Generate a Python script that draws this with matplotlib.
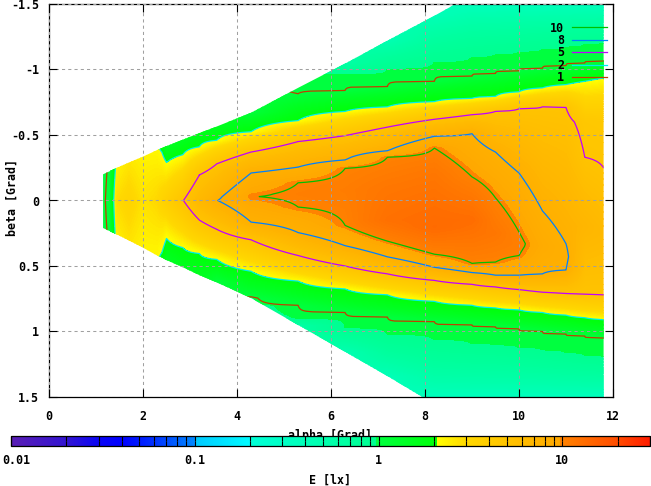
import numpy as np
import matplotlib
matplotlib.use("Agg")
import matplotlib.pyplot as plt
import matplotlib.ticker as mticker
import matplotlib.transforms as mtrans
from matplotlib.colors import LogNorm, ListedColormap, to_rgb
from matplotlib.patches import Polygon
from matplotlib.lines import Line2D

# ---------------- data ----------------
# alpha columns of the illuminance field; for every column the beta knots
# (first / last knot = edge of the measured wedge) and the value E [lx] there
alpha_cols = [1.15, 1.3, 1.45, 1.7, 2.0, 2.3, 2.4, 2.5, 2.85, 3.2, 3.57, 4.3,
              5.3, 6.3, 7.2, 8.2, 9.0, 9.5, 10.0, 10.5, 11.0, 11.4, 11.8]

beta_knots = [
    [-0.20, 0.0, 0.21],
    [-0.225, 0.0, 0.235],
    [-0.25, 0.0, 0.26],
    [-0.29, 0.0, 0.305],
    [-0.335, 0.0, 0.36],
    [-0.385, 0.0, 0.42],
    [-0.40, -0.37, 0.0, 0.40, 0.435],
    [-0.415, -0.29, 0.0, 0.29, 0.455],
    [-0.465, -0.35, 0.0, 0.36, 0.51],
    [-0.515, -0.41, -0.195, 0.0, 0.15, 0.405, 0.57],
    [-0.565, -0.46, -0.28, 0.0, 0.22, 0.45, 0.625],
    [-0.67, -0.525, -0.37, -0.21, -0.03, 0.165, 0.30, 0.54, 0.735, 0.745],
    [-0.86, -0.815, -0.61, -0.45, -0.255, -0.135, -0.05, 0.05, 0.245, 0.42, 0.615, 0.80, 0.90, 0.95],
    [-1.045, -0.96, -0.84, -0.68, -0.495, -0.31, -0.245, -0.08, 0.19, 0.345, 0.50, 0.675, 0.855, 0.97, 1.155],
    [-1.22, -1.0, -0.87, -0.715, -0.56, -0.38, -0.33, -0.1, 0.15, 0.31, 0.43, 0.56, 0.72, 0.89, 1.02, 1.34],
    [-1.41, -1.05, -0.91, -0.755, -0.62, -0.49, -0.40, -0.2, 0.2, 0.41, 0.51, 0.61, 0.77, 0.925, 1.06, 1.5, 1.555],
    [-1.57, -1.5, -1.09, -0.95, -0.78, -0.655, -0.51, -0.18, 0.15, 0.48, 0.55, 0.64, 0.80, 0.95, 1.09, 1.5, 1.72],
    [-1.67, -1.5, -1.11, -0.97, -0.795, -0.68, -0.37, -0.02, 0.25, 0.47, 0.57, 0.66, 0.82, 0.965, 1.10, 1.5, 1.83],
    [-1.77, -1.5, -1.13, -0.99, -0.83, -0.70, -0.21, 0.24, 0.33, 0.42, 0.57, 0.68, 0.835, 0.98, 1.12, 1.5, 1.93],
    [-1.87, -1.5, -1.15, -1.01, -0.86, -0.715, 0.08, 0.35, 0.56, 0.70, 0.855, 1.0, 1.14, 1.5, 2.04],
    [-1.96, -1.5, -1.17, -1.03, -0.885, -0.71, 0.33, 0.43, 0.53, 0.71, 0.875, 1.02, 1.16, 1.5, 2.14],
    [-2.04, -1.5, -1.19, -1.05, -0.91, -0.6, -0.33, 0.2, 0.715, 0.895, 1.035, 1.18, 1.5, 2.23],
    [-2.12, -1.5, -1.20, -1.065, -0.935, -0.6, -0.25, 0.25, 0.72, 0.91, 1.05, 1.19, 1.5, 2.31],
]

E_knots = [
    [0.975, 0.98, 0.975],
    [1.02, 1.04, 1.02],
    [2.3, 2.9, 2.4],
    [2.6, 3.3, 2.7],
    [2.3, 2.7, 2.3],
    [2.2, 3.0, 2.2],
    [1.8, 2.0, 3.3, 2.0, 1.8],
    [1.4, 2.0, 3.7, 2.0, 1.4],
    [1.5, 2.0, 4.95, 2.0, 1.5],
    [1.6, 2.0, 5.0, 6.5, 5.0, 2.0, 1.5],
    [1.5, 2.0, 5.0, 7.95, 5.0, 2.0, 1.01],
    [1.04, 2.0, 5.0, 8.0, 9.95, 8.0, 5.0, 2.0, 1.0, 0.95],
    [0.975, 1.0, 2.0, 5.0, 8.0, 10.0, 10.3, 10.0, 8.0, 5.0, 2.0, 1.0, 0.975, 0.6],
    [0.6, 0.975, 1.0, 2.0, 5.0, 8.0, 10.0, 10.6, 10.0, 8.0, 5.0, 2.0, 1.0, 0.975, 0.45],
    [0.45, 0.975, 1.0, 2.0, 5.0, 8.0, 10.0, 11.5, 12.5, 10.0, 8.0, 5.0, 2.0, 1.0, 0.975, 0.4],
    [0.4, 0.975, 1.0, 2.0, 5.0, 8.0, 10.0, 11.5, 13.5, 10.0, 8.0, 5.0, 2.0, 1.0, 0.975, 0.35, 0.33],
    [0.3, 0.35, 0.975, 1.0, 2.0, 5.0, 8.0, 10.0, 13.0, 10.0, 8.0, 5.0, 2.0, 1.0, 0.975, 0.35, 0.3],
    [0.3, 0.35, 0.975, 1.0, 2.0, 5.0, 8.0, 10.0, 11.5, 10.0, 8.0, 5.0, 2.0, 1.0, 0.975, 0.35, 0.3],
    [0.3, 0.35, 0.975, 1.0, 2.0, 5.0, 8.0, 10.0, 10.4, 10.0, 8.0, 5.0, 2.0, 1.0, 0.975, 0.35, 0.3],
    [0.3, 0.35, 0.975, 1.0, 2.0, 5.0, 8.0, 9.0, 8.0, 5.0, 2.0, 1.0, 0.975, 0.35, 0.3],
    [0.3, 0.35, 0.975, 1.0, 2.0, 5.0, 8.0, 8.3, 8.0, 5.0, 2.0, 1.0, 0.975, 0.35, 0.3],
    [0.3, 0.35, 0.975, 1.0, 2.0, 4.6, 5.0, 7.0, 5.0, 2.0, 1.0, 0.975, 0.35, 0.3],
    [0.3, 0.35, 0.975, 1.0, 2.0, 4.5, 5.0, 6.5, 5.0, 2.0, 1.0, 0.975, 0.35, 0.3],
]

contour_levels = [1, 2, 5, 8, 10]
contour_colors = ["#c04000", "#00eeee", "#c000ff", "#0080ff", "#00c000"]

cb_ticks = [0.01, 0.1, 1, 10]
cb_ticklabels = ["0.01", "0.1", "1", "10"]
x_ticks = [0, 2, 4, 6, 8, 10, 12]
y_ticks = [-1.5, -1, -0.5, 0, 0.5, 1, 1.5]
y_ticklabels = ["-1.5", "-1", "-0.5", "0", "0.5", "1", "1.5"]

E_min, E_max = 0.01, 30.0

# palette (value, colour); repeated values give the jumps of the palette
pal_vals = [0.01, 0.02, 0.03, 0.04, 0.06, 0.0999, 0.1, 0.1999, 0.2, 0.97, 0.9701,
            2.08, 2.0801, 3.0, 5.0, 9.7, 9.7001, 20.0, 30.0]
pal_cols = ["#5a1eb4", "#3214d2", "#0a05f5", "#0000ff", "#0030ff", "#0088ff",
            "#00c8ff", "#00fcff", "#00ffd8", "#00ff90", "#00ff40", "#00ff08",
            "#ffff00", "#ffd800", "#ffc400", "#ffa800", "#ff8400", "#ff4c00",
            "#ff1c00"]

# ---------------- style ----------------
plt.rcParams["font.family"] = ["DejaVu Sans Mono"]
plt.rcParams["font.weight"] = "bold"
plt.rcParams["font.size"] = 8.4

lo, hi = np.log10(E_min), np.log10(E_max)
t_stops = (np.log10(pal_vals) - lo) / (hi - lo)
rgb = np.array([to_rgb(c) for c in pal_cols])
tt = np.linspace(0, 1, 1024)
cmap = ListedColormap(np.column_stack([np.interp(tt, t_stops, rgb[:, k]) for k in range(3)]))
norm = LogNorm(vmin=E_min, vmax=E_max)

# ---------------- figure ----------------
W, H = 651, 486
fig = plt.figure(figsize=(W / 100, H / 100), dpi=100)
ax = fig.add_axes([49 / W, 1 - 397 / H, 564 / W, 393 / H])

# rectangular field: each column sampled along beta from its knots,
# contourf then interpolates between the columns
beta_grid = np.linspace(-1.6, 1.6, 641)
cols = [np.interp(beta_grid, bs, es) for bs, es in zip(beta_knots, E_knots)]
a_grid = [alpha_cols[0] - 0.1] + list(alpha_cols) + [alpha_cols[-1] + 0.1]
cols = [cols[0]] + cols + [cols[-1]]
Zg = np.array(cols).T

top_edge = [(a, bs[0]) for a, bs in zip(alpha_cols, beta_knots)]
bot_edge = [(a, bs[-1]) for a, bs in zip(alpha_cols, beta_knots)][::-1]
wedge = Polygon(top_edge + bot_edge, closed=True, transform=ax.transData)

fill_levels = np.logspace(lo, hi, 300)
cf = ax.contourf(a_grid, beta_grid, Zg, levels=fill_levels, cmap=cmap, norm=norm,
                 extend="both", zorder=1)
cf.set_clip_path(wedge)

cl = ax.contour(a_grid, beta_grid, Zg, levels=contour_levels, colors=contour_colors,
                linewidths=0.9, zorder=2)
cl.set_clip_path(wedge)

ax.set_xlim(0, 12)
ax.set_ylim(1.5, -1.5)
ax.set_xticks(x_ticks)
ax.set_yticks(y_ticks)
ax.set_yticklabels(y_ticklabels)
ax.tick_params(which="major", direction="in", length=5.8, width=0.8, top=True, right=True,
               labelsize=8.4)
ax.tick_params(axis="x", pad=9)
ax.tick_params(axis="y", pad=7)
ax.grid(True, color="#a0a0a0", linestyle=(0, (3, 3)), linewidth=0.75)
ax.set_axisbelow(False)
for sp in ax.spines.values():
    sp.set_linewidth(0.9)

handles = [Line2D([], [], color=c, linewidth=0.9) for c in contour_colors][::-1]
labels = [str(l) for l in contour_levels][::-1]
ax.legend(handles, labels, loc="upper right", bbox_to_anchor=((607 - 49) / 564, 1 - (21.5 - 4) / 393),
          frameon=False, markerfirst=False, handlelength=3.0, handletextpad=0.68,
          labelspacing=-0.05, borderpad=0, borderaxespad=0, fontsize=8.4)

fig.text(12 / W, 1 - 197 / H, "beta [Grad]", rotation=90, ha="center", va="center")
fig.text(330 / W, 1 - 429 / H, "alpha [Grad]", ha="center", va="top", zorder=1)
fig.text(330 / W, 1 - 484 / H, "E [lx]", ha="center", va="baseline")

cax = fig.add_axes([11 / W, 1 - 446 / H, 639 / W, 10 / H])
cax.set_zorder(5)
sm = plt.cm.ScalarMappable(norm=norm, cmap=cmap)
cb = fig.colorbar(sm, cax=cax, orientation="horizontal")
cb.set_ticks(cb_ticks)
cb.set_ticklabels(cb_ticklabels)
cax.xaxis.set_minor_locator(mticker.LogLocator(base=10, subs=np.arange(2, 10), numticks=40))
cax.xaxis.set_minor_formatter(mticker.NullFormatter())
cax.tick_params(which="both", direction="in", top=True, bottom=True, length=3.5, width=0.8,
                labeltop=False, pad=6)
cb.outline.set_linewidth(0.9)
first = cax.xaxis.get_major_ticks()[0].label1
first.set_transform(first.get_transform() + mtrans.ScaledTranslation(3.5 / 72, 0, fig.dpi_scale_trans))

fig.savefig("out.png", dpi=100)
